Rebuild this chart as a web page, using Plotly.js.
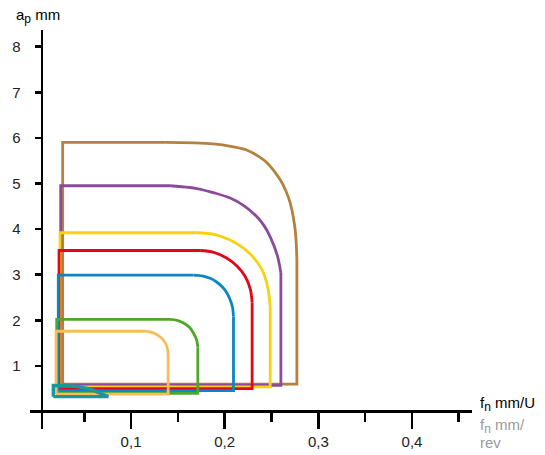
<!DOCTYPE html>
<html>
<head>
<meta charset="utf-8">
<script src="https://cdn.plot.ly/plotly-3.0.1.min.js"></script>
<style>html,body{margin:0;padding:0;background:#fff;}#chart{width:545px;height:455px;}</style>
</head>
<body>
<div id="chart"></div>
<script>
// Outline of each application area (f_n in mm/U, a_p in mm).
// Order of points: bottom-left, top-left, end of flat top, rounded corner ..., top of right edge, bottom-right, bottom-left
const brownX  = [0.0270, 0.0270, 0.1364, 0.1877, 0.2080, 0.2240, 0.2358, 0.2454, 0.2593, 0.2657, 0.2700, 0.2753, 0.2771, 0.2771, 0.0270];
const brownY  = [0.60,   5.90,   5.90,   5.87,   5.81,   5.73,   5.60,   5.45,   5.08,   4.82,   4.57,   3.98,   3.32,   0.60,   0.60];
const purpleX = [0.0249, 0.0249, 0.1417, 0.1702, 0.1877, 0.2058, 0.2208, 0.2344, 0.2422, 0.2486, 0.2561, 0.2600, 0.2600, 0.0249];
const purpleY = [0.575,  4.95,   4.95,   4.89,   4.80,   4.68,   4.51,   4.27,   4.07,   3.83,   3.43,   3.04,   0.575,  0.575];
const yellowX = [0.0242, 0.0242, 0.1702, 0.1898, 0.2058, 0.2197, 0.2293, 0.2369, 0.2422, 0.2465, 0.2486, 0.2486, 0.0242];
const yellowY = [0.54,   3.92,   3.92,   3.88,   3.76,   3.59,   3.41,   3.21,   3.00,   2.66,   2.30,   0.54,   0.54];
const redX    = [0.0231, 0.0231, 0.1738, 0.1882, 0.2016, 0.2131, 0.2219, 0.2274, 0.2293, 0.2293, 0.0231];
const redY    = [0.50,   3.53,   3.53,   3.49,   3.37,   3.19,   2.96,   2.68,   2.39,   0.50,   0.50];
const blueX   = [0.0223, 0.0223, 0.1666, 0.1770, 0.1845, 0.1914, 0.1970, 0.2021, 0.2058, 0.2083, 0.2094, 0.2094, 0.0223];
const blueY   = [0.456,  2.99,   2.99,   2.97,   2.92,   2.84,   2.74,   2.61,   2.45,   2.29,   2.08,   0.456,  0.456];
const greenX  = [0.0206, 0.0206, 0.1417, 0.1492, 0.1561, 0.1626, 0.1669, 0.1700, 0.1713, 0.1713, 0.0206];
const greenY  = [0.40,   2.02,   2.02,   2.00,   1.94,   1.84,   1.71,   1.57,   1.41,   0.40,   0.40];
const orangeX = [0.0199, 0.0199, 0.1150, 0.1214, 0.1273, 0.1324, 0.1364, 0.1387, 0.1396, 0.1396, 0.0199];
const orangeY = [0.38,   1.76,   1.76,   1.74,   1.69,   1.61,   1.51,   1.39,   1.26,   0.38,   0.38];
const tealX   = [0.0170, 0.0170, 0.0384, 0.0562, 0.0669, 0.0758, 0.0758, 0.0170];
const tealY   = [0.325,  0.57,   0.56,   0.49,   0.40,   0.325,  0.325,  0.325];

const xTickVals  = [0.1, 0.2, 0.3, 0.4];
const xTickText  = ['0,1', '0,2', '0,3', '0,4'];
const xMinorVals = [0.05, 0.15, 0.25, 0.35, 0.45];
const yTickVals  = [1, 2, 3, 4, 5, 6, 7, 8];
const yTickText  = ['1', '2', '3', '4', '5', '6', '7', '8'];

const series = [
  {x: brownX,  y: brownY,  color: '#b5813f', w: 2.8},
  {x: purpleX, y: purpleY, color: '#8a4b9a', w: 2.8},
  {x: yellowX, y: yellowY, color: '#f6d20f', w: 2.8},
  {x: redX,    y: redY,    color: '#e1061b', w: 2.8},
  {x: blueX,   y: blueY,   color: '#0a87c3', w: 2.8},
  {x: greenX,  y: greenY,  color: '#4ea72c', w: 2.8},
  {x: orangeX, y: orangeY, color: '#f8bd58', w: 2.8},
  {x: tealX,   y: tealY,   color: '#17989f', w: 3.4}
];

const traces = [];
series.forEach(s => {
  const n = s.x.length;
  // straight edges (linear), with a gap where the rounded corner is
  traces.push({
    type: 'scatter', mode: 'lines',
    x: s.x.slice(0, 3).concat([null], s.x.slice(n - 3)),
    y: s.y.slice(0, 3).concat([null], s.y.slice(n - 3)),
    connectgaps: false,
    line: {color: s.color, width: s.w, shape: 'linear'},
    hoverinfo: 'skip', showlegend: false
  });
  // rounded corner (smooth)
  traces.push({
    type: 'scatter', mode: 'lines',
    x: s.x.slice(2, n - 2), y: s.y.slice(2, n - 2),
    line: {color: s.color, width: s.w, shape: 'spline', smoothing: 1},
    hoverinfo: 'skip', showlegend: false
  });
});

const FONT = 'Liberation Sans, Arial, Helvetica, sans-serif';
const SUB = t => '<sub><span style="font-size:12px">' + t + '</span></sub>';

const layout = {
  width: 545, height: 455,
  margin: {l: 30, r: 73.3, t: 30, b: 26, pad: 0},
  paper_bgcolor: '#ffffff', plot_bgcolor: '#ffffff',
  font: {family: FONT, size: 15, color: '#000'},
  showlegend: false,
  xaxis: {
    range: [-0.0079, 0.4641], anchor: 'free', position: 0.04386,
    showline: true, linewidth: 2.6, linecolor: '#000',
    showgrid: false, zeroline: false,
    ticks: 'outside', ticklen: 16, tickwidth: 2.6, tickcolor: '#000',
    tickmode: 'array', tickvals: xTickVals, ticktext: xTickText,
    tickfont: {family: FONT, size: 15, color: '#222'},
    minor: {tickmode: 'array', tickvals: xMinorVals, ticks: 'outside', ticklen: 9, tickwidth: 2.6, tickcolor: '#000', showgrid: false}
  },
  yaxis: {
    range: [-0.384, 8.366], anchor: 'free', position: 0.0265,
    showline: true, linewidth: 2.6, linecolor: '#000',
    showgrid: false, zeroline: false,
    ticks: 'outside', ticklen: 6, tickwidth: 2.6, tickcolor: '#000',
    tickmode: 'array', tickvals: yTickVals, ticktext: yTickText,
    ticklabelstandoff: 11,
    tickfont: {family: FONT, size: 15, color: '#222'}
  },
  annotations: [
    {xref: 'paper', yref: 'paper', x: -0.0362, y: 1.034, xanchor: 'left', yanchor: 'middle',
     text: 'a' + SUB('p') + ' mm', showarrow: false, font: {family: FONT, size: 15, color: '#000'}},
    {xref: 'paper', yref: 'paper', x: 1.0143, y: 0.0627, xanchor: 'left', yanchor: 'middle',
     text: 'f' + SUB('n') + ' mm/U', showarrow: false, font: {family: FONT, size: 15, color: '#000'}},
    {xref: 'paper', yref: 'paper', x: 1.0143, y: 0.0085, xanchor: 'left', yanchor: 'middle',
     text: 'f' + SUB('n') + ' mm/', showarrow: false, font: {family: FONT, size: 15, color: '#9a9a9a'}},
    {xref: 'paper', yref: 'paper', x: 1.0143, y: -0.0340, xanchor: 'left', yanchor: 'middle',
     text: 'rev', showarrow: false, font: {family: FONT, size: 15, color: '#9a9a9a'}}
  ]
};

Plotly.newPlot('chart', traces, layout, {staticPlot: true, displayModeBar: false});
</script>
</body>
</html>
